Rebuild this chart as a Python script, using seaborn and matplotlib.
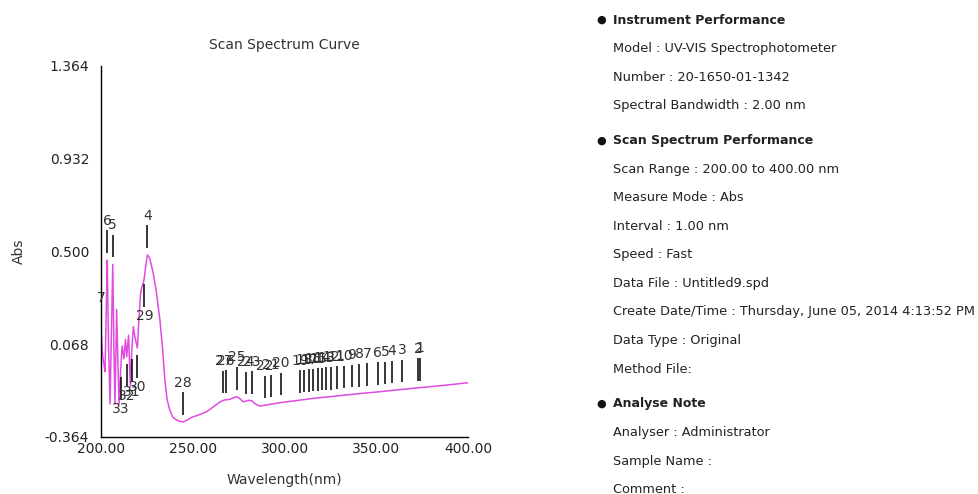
import numpy as np
import pandas as pd
import matplotlib
matplotlib.use("Agg")
import matplotlib.pyplot as plt
import seaborn as sns

# spectrum trace (wavelength nm, Abs)
wavelength = [200.0, 200.8, 201.5, 202.2, 203.0, 203.4, 204.0, 204.9, 205.6, 206.4,
              207.0, 207.6, 208.5, 209.3, 209.8, 210.7, 211.5, 212.5, 213.3, 214.0,
              215.0, 216.0, 216.7, 217.6, 218.5, 219.8, 220.6, 221.5, 222.2, 223.0,
              223.6, 224.3, 225.3, 226.5, 228.4, 230.0, 232.1, 233.5, 234.8, 236.0,
              237.5, 239.0, 240.3, 242.5, 244.8, 247.0, 249.4, 252.0, 255.0, 257.6,
              261.0, 264.9, 267.1, 270.3, 272.0, 274.0, 275.5, 277.5, 279.0, 280.3,
              282.1, 284.0, 286.6, 290.0, 297.5, 305.0, 315.7, 325.0, 333.9, 343.0,
              352.0, 361.0, 370.2, 379.0, 388.4, 395.0, 400.0]
absorbance = [0.13, 0.02, -0.02, -0.06, 0.30, 0.46, 0.10, -0.21, 0.10, 0.44,
              0.05, -0.21, 0.23, -0.05, -0.21, -0.05, 0.06, 0.00, 0.09, 0.01,
              0.11, -0.13, 0.03, 0.15, 0.10, 0.05, 0.18, 0.30, 0.335, 0.35,
              0.38, 0.43, 0.484, 0.47, 0.40, 0.32, 0.18, 0.05, -0.10, -0.19,
              -0.24, -0.27, -0.28, -0.29, -0.294, -0.285, -0.272, -0.265, -0.255, -0.246,
              -0.225, -0.20, -0.192, -0.188, -0.182, -0.176, -0.185, -0.20, -0.197, -0.193,
              -0.195, -0.21, -0.22, -0.215, -0.204, -0.196, -0.184, -0.176, -0.168, -0.160,
              -0.153, -0.145, -0.137, -0.130, -0.122, -0.116, -0.111]

# peak pick markers: wavelength, label, direction (1 = above curve, -1 = below)
peak_wl = [373.8, 372.9, 363.9, 358.6, 354.8, 350.8, 344.8, 340.8, 336.6, 332.4,
           328.4, 325.2, 322.6, 320.4, 318.1, 315.7, 313.2, 310.8, 308.4, 297.9,
           292.5, 289.4, 282.1, 278.9, 274.0, 268.1, 266.7,
           244.8, 223.6, 219.8, 216.7, 214.0, 210.7,
           225.3, 206.4, 203.4, 200.2]
peak_lbl = [str(i) for i in range(1, 34)] + ["4", "5", "6", "7"]
peak_lbl = peak_lbl[:27] + ["28", "29", "30", "31", "32", "33", "4", "5", "6", "7"]
peak_dir = [1] * 27 + [1, -1, -1, -1, -1, -1, 1, 1, 1, 1]

y_ticks = [-0.364, 0.068, 0.500, 0.932, 1.364]
x_ticks = [200, 250, 300, 350, 400]

info_lines = [
    ("head", "Instrument Performance"),
    ("item", "Model : UV-VIS Spectrophotometer"),
    ("item", "Number : 20-1650-01-1342"),
    ("item", "Spectral Bandwidth : 2.00 nm"),
    ("head", "Scan Spectrum Performance"),
    ("item", "Scan Range : 200.00 to 400.00 nm"),
    ("item", "Measure Mode : Abs"),
    ("item", "Interval : 1.00 nm"),
    ("item", "Speed : Fast"),
    ("item", "Data File : Untitled9.spd"),
    ("item", "Create Date/Time : Thursday, June 05, 2014 4:13:52 PM"),
    ("item", "Data Type : Original"),
    ("item", "Method File:"),
    ("head", "Analyse Note"),
    ("item", "Analyser : Administrator"),
    ("item", "Sample Name :"),
    ("item", "Comment :"),
]

sns.set_style("white")
plt.rcParams["font.family"] = ["DejaVu Sans"]

df = pd.DataFrame({"Wavelength": wavelength, "Abs": absorbance})

fig = plt.figure(figsize=(9.79, 4.94), dpi=100)
ax = fig.add_axes([0.1032, 0.1154, 0.375, 0.751])

sns.lineplot(data=df, x="Wavelength", y="Abs", ax=ax, color="#e04ce0", linewidth=1.1)

# peak markers: short bar a little off the curve, number beyond it
gap, bar_len, txt_off = 0.033, 0.105, 0.012
for wl, lbl, d in zip(peak_wl, peak_lbl, peak_dir):
    yv = np.interp(wl, wavelength, absorbance)
    y0 = yv + d * gap
    y1 = y0 + d * bar_len
    ax.vlines(wl, min(y0, y1), max(y0, y1), color="black", linewidth=1.1)
    ax.text(wl, y1 + d * txt_off, lbl, ha="center", va="bottom" if d > 0 else "top",
            fontsize=10, color="#333333")

ax.set_xlim(200, 400)
ax.set_ylim(-0.364, 1.364)
ax.set_xticks(x_ticks)
ax.set_xticklabels([f"{v:.2f}" for v in x_ticks])
ax.set_yticks(y_ticks)
ax.set_yticklabels([f"{v:.3f}" for v in y_ticks])
ax.tick_params(axis="x", direction="in", length=7, width=1, labelsize=10, colors="#222222")
ax.tick_params(axis="y", direction="out", length=5, width=1, labelsize=10, colors="#222222")
for s in ["top", "right"]:
    ax.spines[s].set_visible(False)
for s in ["left", "bottom"]:
    ax.spines[s].set_color("black")
    ax.spines[s].set_linewidth(1)

ax.set_title("Scan Spectrum Curve", fontsize=10, color="#333333", pad=12)
ax.set_xlabel("Wavelength(nm)", fontsize=10, color="#333333", labelpad=12)
ax.set_ylabel("Abs", fontsize=10, color="#333333", labelpad=14)

# instrument info panel on the right
y_px = 20
for kind, txt in info_lines:
    if kind == "head":
        if txt != "Instrument Performance":
            y_px += 6
        fig.text(596 / 979, 1 - y_px / 494, "\u25cf", fontsize=8, va="center", ha="left", color="#111111")
        fig.text(613 / 979, 1 - y_px / 494, txt, fontsize=9, fontweight="bold", va="center", ha="left",
                 color="#222222")
    else:
        fig.text(613 / 979, 1 - y_px / 494, txt, fontsize=9.3, va="center", ha="left", color="#222222")
    y_px += 28.6

fig.savefig("out.png", dpi=100)
